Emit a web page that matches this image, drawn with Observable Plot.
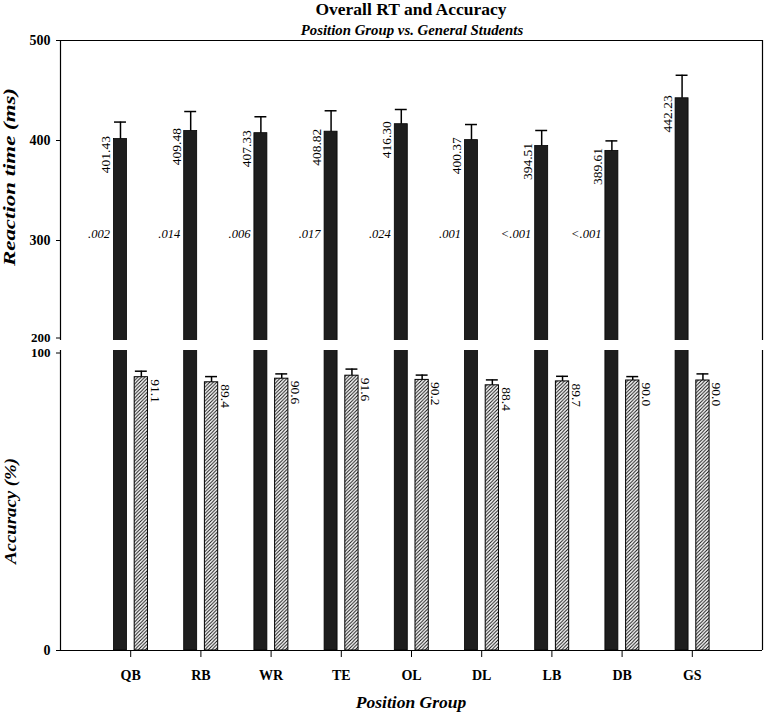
<!DOCTYPE html>
<html><head><meta charset="utf-8">
<script src="https://cdn.jsdelivr.net/npm/d3@7"></script>
<script src="https://cdn.jsdelivr.net/npm/@observablehq/plot@0.6"></script>
<style>
body{margin:0;background:#fff;}
#wrap{position:relative;width:765px;height:718px;overflow:hidden;}
#top,#bottom{position:absolute;left:0;}
#top{top:0;}
#bottom{top:340px;}
#overlay{position:absolute;left:0;top:0;pointer-events:none;}
#overlay text{font-family:"Liberation Serif","Times New Roman",serif;fill:#000;}
svg text{font-family:"Liberation Serif","Times New Roman",serif;}
</style></head>
<body>
<div id="wrap">
  <div id="top"></div>
  <div id="bottom"></div>
  <svg id="overlay" width="765" height="718">
    <text x="411" y="15" text-anchor="middle" font-size="17.5" font-weight="bold">Overall RT and Accuracy</text>
    <text x="412" y="35" text-anchor="middle" font-size="14.8" font-weight="bold" font-style="italic">Position Group vs. General Students</text>
    <text transform="translate(15,177) rotate(-90)" text-anchor="middle" font-size="17.5" font-weight="bold" font-style="italic" textLength="178" lengthAdjust="spacingAndGlyphs">Reaction time (ms)</text>
    <text transform="translate(15.5,511) rotate(-90)" text-anchor="middle" font-size="17" font-weight="bold" font-style="italic" textLength="106" lengthAdjust="spacingAndGlyphs">Accuracy (%)</text>
    <text x="411" y="708" text-anchor="middle" font-size="17.5" font-weight="bold" font-style="italic">Position Group</text>
  </svg>
</div>
<script>
// ---- data ----
const groups   = ["QB","RB","WR","TE","OL","DL","LB","DB","GS"];
const rtMean   = [401.43,409.48,407.33,408.82,416.30,400.37,394.51,389.61,442.23];
const rtErr    = [17.0,19.5,16.4,20.9,14.7,15.6,15.5,10.0,23.0];
const pValues  = [".002",".014",".006",".017",".024",".001","<.001","<.001",""];
const accMean  = [91.1,89.4,90.6,91.6,90.2,88.4,89.7,90.0,90.0];
const accErr   = [2.0,1.9,1.6,2.2,1.6,1.8,1.7,1.3,2.2];
const rtTicks  = [300,400,500];
const rtBreakTick  = [200];
const accTicks = [0];
const accBreakTick = [100];
const pLabelY  = 307;

const rows = groups.map((g,i)=>({
  g, pos:i+1, rt:rtMean[i], rtErr:rtErr[i], p:pValues[i], acc:accMean[i], accErr:accErr[i]
}));

const FONT = "'Liberation Serif', 'Times New Roman', serif";
const common = {
  width:765, marginLeft:60, marginRight:3,
  x:{type:"linear", domain:[0,10], axis:null},
  style:{fontFamily:FONT, fontSize:"14px", background:"transparent", overflow:"visible", color:"#000"}
};
const bx1 = d=>d.pos-0.238, bx2 = d=>d.pos-0.053, bc = d=>d.pos-0.1455;
const hx1 = d=>d.pos+0.057, hx2 = d=>d.pos+0.246, hc = d=>d.pos+0.1515;
const cap = 0.085;
const axisStyle = {tickSize:4,tickPadding:6,tickFormat:d=>String(d),fontWeight:"bold",fontFamily:FONT,label:null,stroke:"#000",fill:"#000"};

// ---- top panel: reaction time ----
const topPlot = Plot.plot({
  ...common,
  height:341, marginTop:40, marginBottom:1,
  y:{domain:[200,500], axis:null},
  marks:[
    Plot.rectY(rows,{x1:bx1,x2:bx2,y1:()=>0,y2:"rt",fill:"#1e1e1e",stroke:"#000",strokeWidth:0.8,clip:true}),
    Plot.ruleX(rows,{x:bc,y1:"rt",y2:d=>d.rt+d.rtErr,stroke:"#000",strokeWidth:1.5}),
    Plot.ruleY(rows,{y:d=>d.rt+d.rtErr,x1:d=>bc(d)-cap,x2:d=>bc(d)+cap,stroke:"#000",strokeWidth:1.5}),
    Plot.text(rows,{x:bc,y:d=>d.rt+3,text:d=>d.rt.toFixed(2),rotate:-90,textAnchor:"end",dx:-14.5,fontSize:13.5,fontFamily:FONT,fill:"#000"}),
    Plot.text(rows.filter(d=>d.p),{x:bc,y:()=>pLabelY,text:"p",textAnchor:"end",dx:-10.5,fontSize:12.5,fontStyle:"italic",fontFamily:FONT,fill:"#000"}),
    Plot.axisY({...axisStyle,ticks:rtTicks,fontSize:14}),
    Plot.axisY({...axisStyle,ticks:rtBreakTick,fontSize:13,dy:-2.5}),
    Plot.ruleY([500],{stroke:"#000",strokeWidth:1.2}),
    Plot.ruleX([0,10],{stroke:"#000",strokeWidth:1.2})
  ]
});
document.getElementById("top").appendChild(topPlot);

// ---- bottom panel: accuracy ----
const bottomPlot = Plot.plot({
  ...common,
  height:350, marginTop:10, marginBottom:40,
  y:{domain:[0,100], axis:null},
  marks:[
    Plot.rectY(rows,{x1:bx1,x2:bx2,y1:()=>0,y2:"rt",fill:"#1e1e1e",stroke:"#000",strokeWidth:0.8,clip:true}),
    Plot.rectY(rows,{x1:hx1,x2:hx2,y1:()=>0,y2:"acc",fill:"url(#hatch)",stroke:"#000",strokeWidth:1}),
    Plot.ruleX(rows,{x:hc,y1:"acc",y2:d=>d.acc+d.accErr,stroke:"#000",strokeWidth:1.5}),
    Plot.ruleY(rows,{y:d=>d.acc+d.accErr,x1:d=>hc(d)-cap,x2:d=>hc(d)+cap,stroke:"#000",strokeWidth:1.5}),
    Plot.text(rows,{x:hc,y:"acc",text:d=>d.acc.toFixed(1),rotate:90,textAnchor:"start",dx:13.5,dy:2,fontSize:13.5,fontFamily:FONT,fill:"#000"}),
    Plot.axisY({...axisStyle,ticks:accTicks,fontSize:14}),
    Plot.axisY({...axisStyle,ticks:accBreakTick,fontSize:13,dy:2.5}),
    Plot.axisX({ticks:d3.range(1,10),tickSize:7,tickPadding:13,tickFormat:i=>groups[i-1],fontWeight:"bold",fontSize:14,fontFamily:FONT,label:null,stroke:"#000",fill:"#000"}),
    Plot.ruleY([0],{stroke:"#000",strokeWidth:1.2}),
    Plot.ruleX([0,10],{stroke:"#000",strokeWidth:1.2})
  ]
});
const defs = d3.select(bottomPlot).insert("defs",":first-child");
const pat = defs.append("pattern").attr("id","hatch").attr("patternUnits","userSpaceOnUse").attr("width",3.5).attr("height",3.5);
pat.append("rect").attr("width",3.5).attr("height",3.5).attr("fill","#fff");
pat.append("path").attr("d","M-1,1 l2,-2 M0,3.5 l3.5,-3.5 M2.5,4.5 l2,-2").attr("stroke","#000").attr("stroke-width",0.9);
document.getElementById("bottom").appendChild(bottomPlot);
</script>
</body></html>
